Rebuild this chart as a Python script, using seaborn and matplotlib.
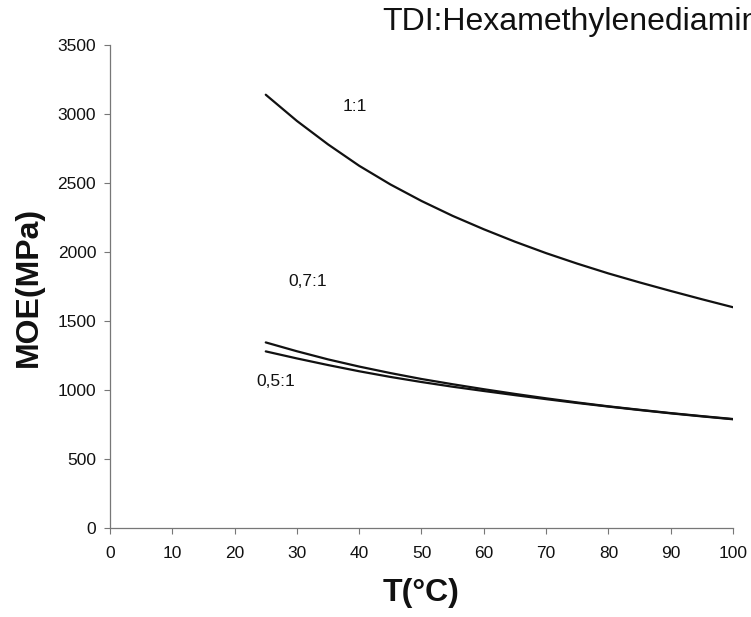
import matplotlib
matplotlib.use("Agg")
import matplotlib.pyplot as plt
import seaborn as sns
import pandas as pd

# Data
temperature = [25, 30, 35, 40, 45, 50, 55, 60, 65, 70, 75, 80, 85, 90, 95, 100]
moe_1_1 = [3140, 2950, 2780, 2625, 2490, 2370, 2262, 2165, 2075, 1992, 1916, 1845, 1780, 1718, 1658, 1600]
moe_07_1 = [1345, 1281, 1222, 1170, 1123, 1080, 1042, 1006, 972, 940, 910, 882, 857, 833, 811, 790]
moe_05_1 = [1280, 1229, 1181, 1136, 1095, 1058, 1024, 993, 963, 934, 906, 880, 855, 831, 809, 788]
series_names = ["1:1", "0,7:1", "0,5:1"]
label_pos_T = [39.3, 31.8, 26.6]
label_pos_moe = [3057, 1790, 1063]
x_ticks = [0, 10, 20, 30, 40, 50, 60, 70, 80, 90, 100]
y_ticks = [0, 500, 1000, 1500, 2000, 2500, 3000, 3500]
title_text = "TDI:Hexamethylenediamin"

sns.set_style("ticks")
plt.rcParams["font.family"] = ["Liberation Sans", "DejaVu Sans"]

rows = []
for name, vals in zip(series_names, [moe_1_1, moe_07_1, moe_05_1]):
    for t, v in zip(temperature, vals):
        rows.append({"T": t, "MOE": v, "ratio": name})
df = pd.DataFrame(rows)

fig = plt.figure(figsize=(7.51, 6.17), dpi=100)
ax = fig.add_axes([0.1465, 0.1442, 0.8295, 0.7828])

sns.lineplot(data=df, x="T", y="MOE", hue="ratio", units="ratio", estimator=None,
             palette=["#111111"] * 3, linewidth=1.6, legend=False, ax=ax)

ax.set_xlim(0, 100)
ax.set_ylim(0, 3500)
ax.set_xticks(x_ticks)
ax.set_yticks(y_ticks)
ax.tick_params(axis="both", labelsize=12.5, length=4, width=0.8, color="#777777",
               labelcolor="#111111")
ax.tick_params(axis="x", pad=9)
ax.tick_params(axis="y", pad=6)
for s in ["top", "right"]:
    ax.spines[s].set_visible(False)
for s in ["left", "bottom"]:
    ax.spines[s].set_color("#777777")
    ax.spines[s].set_linewidth(0.9)

ax.set_xlabel("T(°C)", fontsize=23, fontweight="bold", labelpad=12, color="#111111")
ax.set_ylabel("MOE(MPa)", fontsize=23, fontweight="bold", labelpad=10, color="#111111")

for name, tx, ty in zip(series_names, label_pos_T, label_pos_moe):
    ax.text(tx, ty, name, fontsize=12.5, ha="center", va="center", color="#111111")

fig.text(382 / 751, 1 - 22 / 617, title_text, fontsize=23, ha="left", va="center",
         color="#111111")

fig.savefig("out.png", dpi=100)
